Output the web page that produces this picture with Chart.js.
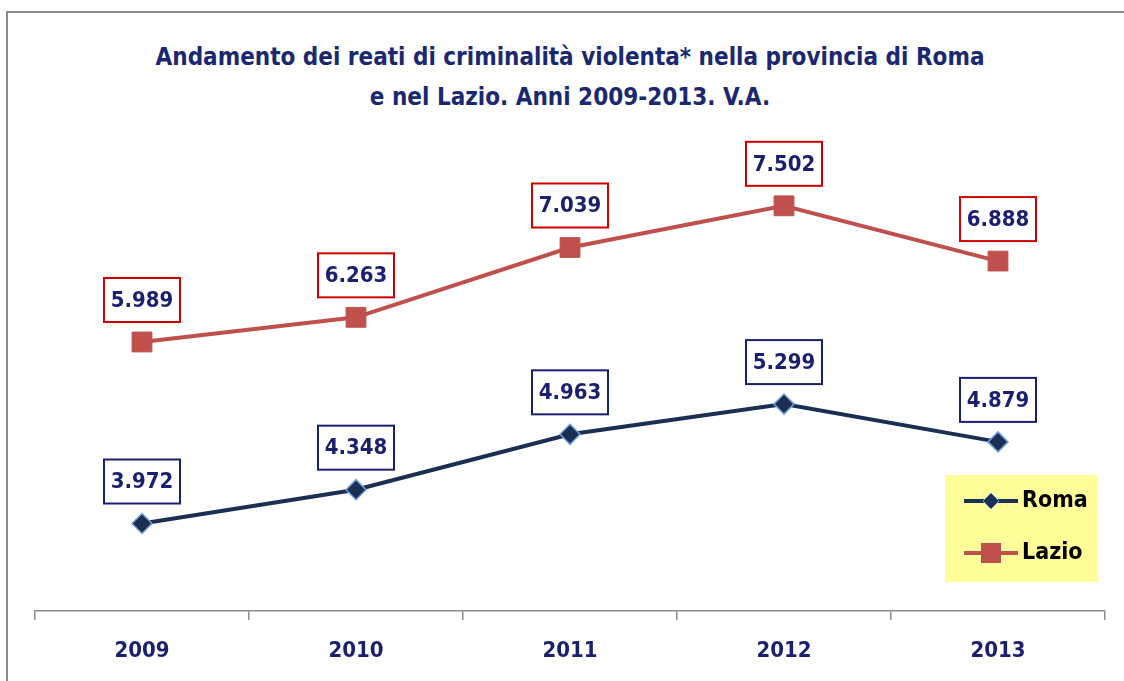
<!DOCTYPE html>
<html>
<head>
<meta charset="utf-8">
<script src="https://cdn.jsdelivr.net/npm/chart.js@4.4.1/dist/chart.umd.min.js"></script>
<style>
  body { margin: 0; background: #fff; overflow: hidden; }
  #wrap { position: relative; width: 1124px; height: 681px; }
  #frame { position: absolute; left: 6px; top: 11px; width: 1200px; height: 800px; border: 2px solid #8c8c8c; box-sizing: border-box; }
  #title { position: absolute; left: 0; top: 37px; width: 1140px; text-align: center;
    font-family: "Liberation Sans Narrow", "DejaVu Sans Condensed", sans-serif; font-weight: bold;
    font-size: 24px; line-height: 40px; color: #1b2870; }
  canvas { position: absolute; left: 0; top: 0; }
</style>
</head>
<body>
<div id="wrap">
  <div id="frame"></div>
  <div id="title">Andamento dei reati di criminalità violenta* nella provincia di Roma<br>e nel Lazio. Anni 2009-2013. V.A.</div>
  <canvas id="chart" width="1124" height="681"></canvas>
</div>
<script>
// Data
const years = ['2009', '2010', '2011', '2012', '2013'];
const roma = [3972, 4348, 4963, 5299, 4879];
const lazio = [5989, 6263, 7039, 7502, 6888];

const navyText = '#1a1f6e';
const fontFamily = '"Liberation Sans Narrow", "DejaVu Sans Condensed", sans-serif';

function fmt(v) {
    return v.toLocaleString('it-IT');
}

// Boxed value labels above each point
const valueLabels = {
    id: 'valueLabels',
    afterDatasetsDraw(chart) {
        const ctx = chart.ctx;
        chart.data.datasets.forEach((ds, i) => {
            const meta = chart.getDatasetMeta(i);
            meta.data.forEach((pt, j) => {
                const w = 76, h = 44;
                const cx = pt.x, cy = pt.y - 42;
                ctx.save();
                ctx.fillStyle = '#fff';
                ctx.fillRect(cx - w / 2, cy - h / 2, w, h);
                ctx.lineWidth = 2;
                ctx.strokeStyle = ds.labelBorder;
                ctx.strokeRect(cx - w / 2, cy - h / 2, w, h);
                ctx.fillStyle = navyText;
                ctx.font = 'bold 22px ' + fontFamily;
                ctx.textAlign = 'center';
                ctx.textBaseline = 'middle';
                ctx.fillText(fmt(ds.data[j]), cx, cy + 1);
                ctx.restore();
            });
        });
    }
};

// Legend in a yellow box inside the plot
const boxLegend = {
    id: 'boxLegend',
    afterDraw(chart) {
        const ctx = chart.ctx;
        ctx.save();
        ctx.fillStyle = '#ffff99';
        ctx.fillRect(945, 475, 153, 107);
        chart.data.datasets.forEach((ds, i) => {
            const y = 501 + i * 52;
            ctx.strokeStyle = ds.borderColor;
            ctx.lineWidth = 4;
            ctx.beginPath();
            ctx.moveTo(964, y);
            ctx.lineTo(1018, y);
            ctx.stroke();
            ctx.fillStyle = ds.pointBackgroundColor;
            ctx.strokeStyle = ds.pointBorderColor;
            ctx.lineWidth = 1;
            if (ds.pointStyle === 'rectRot') {
                ctx.beginPath();
                ctx.moveTo(991, y - 8);
                ctx.lineTo(999, y);
                ctx.lineTo(991, y + 8);
                ctx.lineTo(983, y);
                ctx.closePath();
                ctx.fill();
                ctx.stroke();
            } else {
                ctx.fillRect(981, y - 10, 20, 20);
            }
            ctx.fillStyle = '#000';
            ctx.font = 'bold 23px ' + fontFamily;
            ctx.textAlign = 'left';
            ctx.textBaseline = 'middle';
            ctx.fillText(ds.label, 1022, y);
        });
        ctx.restore();
    }
};

new Chart(document.getElementById('chart'), {
    type: 'line',
    data: {
        labels: years,
        datasets: [{
            label: 'Roma',
            data: roma,
            borderColor: '#1b2f52',
            borderWidth: 4,
            pointStyle: 'rectRot',
            pointRadius: 10,
            pointBackgroundColor: '#1b2f52',
            pointBorderColor: '#6f9fd8',
            pointBorderWidth: 1.5,
            labelBorder: '#1a1f6e',
            tension: 0
        }, {
            label: 'Lazio',
            data: lazio,
            borderColor: '#c0504d',
            borderWidth: 4,
            pointStyle: 'rect',
            pointRadius: 14,
            pointBackgroundColor: '#c0504d',
            pointBorderColor: '#c0504d',
            pointBorderWidth: 1,
            labelBorder: '#cc0000',
            tension: 0
        }]
    },
    options: {
        responsive: false,
        animation: false,
        layout: { padding: { left: 35, right: 19, top: 161, bottom: 0 } },
        plugins: {
            legend: { display: false },
            tooltip: { enabled: false },
            title: { display: false }
        },
        scales: {
            x: {
                offset: true,
                afterFit(scale) { scale.height = 70; },
                grid: { offset: true, drawOnChartArea: false, drawTicks: true, tickLength: 9, color: '#8c8c8c', lineWidth: 1.5 },
                border: { display: true, color: '#8c8c8c', width: 1.5 },
                ticks: { color: navyText, font: { family: fontFamily, weight: 'bold', size: 22 }, padding: 18 }
            },
            y: {
                display: false,
                min: 3000,
                max: 8000
            }
        }
    },
    plugins: [valueLabels, boxLegend]
});
</script>
</body>
</html>
